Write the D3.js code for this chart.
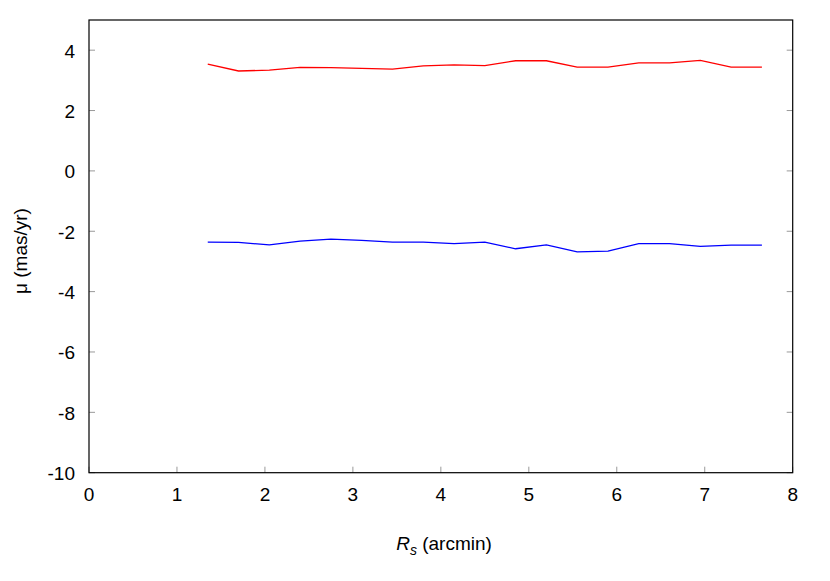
<!DOCTYPE html>
<html><head><meta charset="utf-8">
<script src="https://cdn.jsdelivr.net/npm/d3@7"></script>
<style>body{margin:0;background:#fff}svg{display:block}text{font-family:"Liberation Sans",Arial,sans-serif}</style>
</head><body><svg id="c" width="830" height="581"></svg>
<script>
const radius = [1.35,1.70,2.05,2.40,2.75,3.10,3.45,3.80,4.15,4.50,4.85,5.20,5.55,5.90,6.25,6.60,6.95,7.30,7.65];
const muRed = [3.54,3.31,3.34,3.43,3.42,3.40,3.37,3.48,3.51,3.49,3.65,3.65,3.44,3.44,3.58,3.58,3.66,3.44,3.44];
const muBlue = [-2.36,-2.37,-2.45,-2.33,-2.26,-2.30,-2.36,-2.36,-2.41,-2.36,-2.58,-2.45,-2.68,-2.66,-2.41,-2.41,-2.50,-2.46,-2.46];
const xTicks = [0,1,2,3,4,5,6,7,8];
const yTicks = [-10,-8,-6,-4,-2,0,2,4];

const svg = d3.select("#c");
const L=89, R=792.7, T=20, B=472.7;
const x = d3.scaleLinear().domain([0,8]).range([L,R]);
const y = d3.scaleLinear().domain([-10,5]).range([B,T]);

// ticks
const tg = svg.append("g").attr("stroke","#999").attr("stroke-width",1);
yTicks.forEach(v=>{
  tg.append("line").attr("x1",L).attr("x2",L+6).attr("y1",y(v)).attr("y2",y(v));
  tg.append("line").attr("x1",R-6).attr("x2",R).attr("y1",y(v)).attr("y2",y(v));
});
xTicks.forEach(v=>{
  tg.append("line").attr("x1",x(v)).attr("x2",x(v)).attr("y1",B).attr("y2",B-6);
});
// frame
svg.append("rect").attr("x",L).attr("y",T).attr("width",R-L).attr("height",B-T)
  .attr("fill","none").attr("stroke","#000").attr("stroke-width",1.2);

// tick labels
svg.append("g").selectAll("text").data(yTicks).join("text")
  .attr("x",L-14).attr("y",d=>y(d)+7.5).attr("text-anchor","end")
  .attr("font-size",19).text(d=>d);
svg.append("g").selectAll("text").data(xTicks).join("text")
  .attr("x",d=>x(d)).attr("y",B+28).attr("text-anchor","middle")
  .attr("font-size",19).text(d=>d);

// lines
const line = ys => d3.line().x((d,i)=>x(radius[i])).y(d=>y(d))(ys);
svg.append("path").attr("d",line(muRed)).attr("fill","none").attr("stroke","#ff0000").attr("stroke-width",1.3);
svg.append("path").attr("d",line(muBlue)).attr("fill","none").attr("stroke","#0000ff").attr("stroke-width",1.3);

// axis labels
const xl = svg.append("text").attr("x",444).attr("y",550).attr("text-anchor","middle").attr("font-size",19);
xl.append("tspan").attr("font-style","italic").text("R");
xl.append("tspan").attr("font-style","italic").attr("font-size",14).attr("dy",5).text("s");
xl.append("tspan").attr("dy",-5).text(" (arcmin)");
svg.append("text").attr("transform","translate(27,251) rotate(-90)")
  .attr("text-anchor","middle").attr("font-size",19).text("μ (mas/yr)");
</script></body></html>
